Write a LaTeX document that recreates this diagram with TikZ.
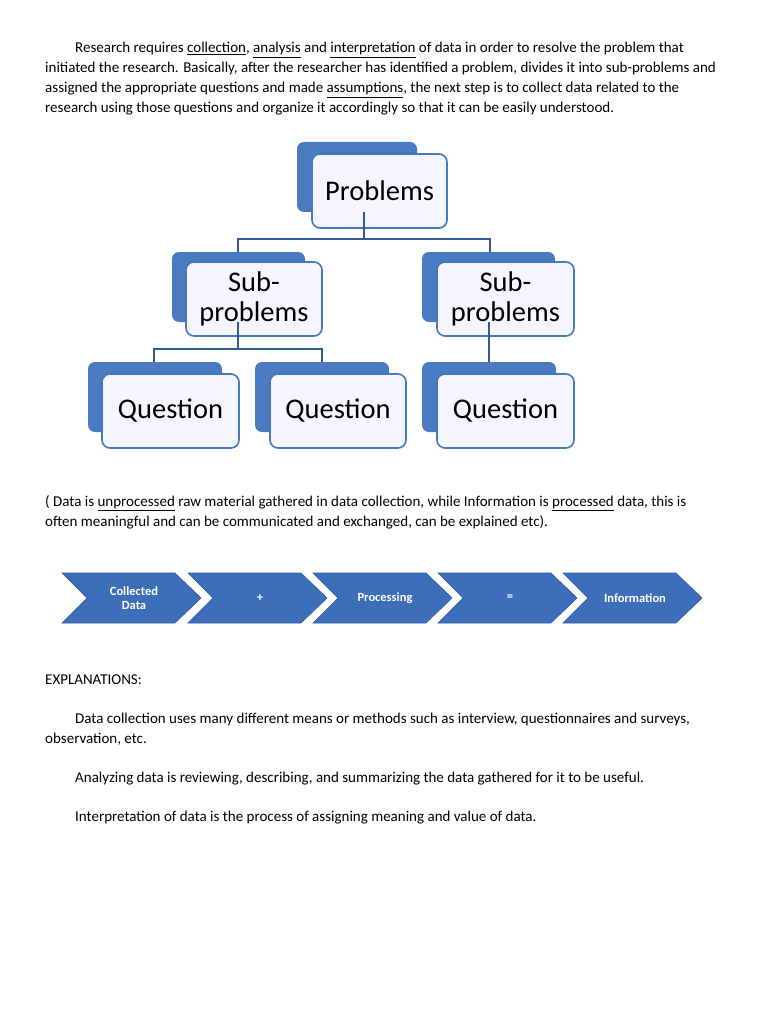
\documentclass[tikz,border=0pt]{standalone}
\usepackage{fontspec}
\setmainfont{Carlito}
\begin{document}
\begin{tikzpicture}[x=1pt,y=-1pt,
 txt/.style={anchor=base west,inner sep=0pt,font=\fontsize{15}{17}\selectfont},
 front/.style={fill=blue!4,draw={rgb,255:red,70;green,120;blue,190},line width=1.6pt,rounded corners=8pt,align=center,font=\fontsize{28.5}{30}\selectfont},
 con/.style={draw={rgb,255:red,50;green,90;blue,150},line width=1.5pt},
 chev/.style={fill={rgb,255:red,60;green,110;blue,185},draw={rgb,255:red,50;green,90;blue,160},line width=0.6pt},
 ctxt/.style={text=white,font=\bfseries\fontsize{12.5}{13.5}\selectfont,align=center}]
\definecolor{bk}{RGB}{74,122,192}
\tikzset{back/.style={fill=bk,rounded corners=7pt}}
\useasboundingbox (0,0) rectangle (768,1024);
\node[txt] at (75,53) {Research requires \underline{collection}, \underline{analysis} and \underline{interpretation} of data in order to resolve the problem that};
\node[txt] at (45,73) {initiated the research. Basically, after the researcher has identified a problem, divides it into sub-problems and};
\node[txt] at (45,93) {assigned the appropriate questions and made \underline{assumptions}, the next step is to collect data related to the};
\node[txt] at (45,113) {research using those questions and organize it accordingly so that it can be easily understood.};
% hierarchy
\fill[back] (297,142) rectangle (417,212);
\node[front,minimum width=135pt,minimum height=74pt] (p) at (379.5,191) {Problems};
\fill[back] (172,252) rectangle (305,322);
\node[front,minimum width=136pt,minimum height=74pt] (s1) at (254,299) {Sub-\\problems};
\fill[back] (422,252) rectangle (555,322);
\node[front,minimum width=137pt,minimum height=74pt] (s2) at (505.5,299) {Sub-\\problems};
\fill[back] (88,362) rectangle (222,432);
\node[front,minimum width=137pt,minimum height=74pt] (q1) at (170.5,411) {Question};
\fill[back] (255,362) rectangle (389,432);
\node[front,minimum width=136pt,minimum height=74pt] (q2) at (338,411) {Question};
\fill[back] (422,362) rectangle (556,432);
\node[front,minimum width=137pt,minimum height=74pt] (q3) at (505.5,411) {Question};
\coordinate (a) at (364,212); \coordinate (b) at (238,322); \coordinate (c) at (489,322);
\draw[con] (a) -- (364,239) (238,252) -- (238,239) -- (490,239) -- (490,252);
\draw[con] (b) -- (238,349) (154,362) -- (154,349) -- (322,349) -- (322,362);
\draw[con] (c) -- (489,362);
\node[txt] at (45,506) {( Data is \underline{unprocessed} raw material gathered in data collection, while Information is \underline{processed} data, this is};
\node[txt] at (45,526) {often meaningful and can be communicated and exchanged, can be explained etc).};
% chevrons
\foreach \x/\t [count=\i] in {62/{Collected\\Data},188/+,313/Processing,438/=,563/Information}{
 \fill[chev] (\x,573) -- (\x+113,573) -- (\x+139,598) -- (\x+113,623) -- (\x,623) -- (\x+25,598) -- cycle;
 \node[ctxt] (c\i) at (\x+72,598) {\t};
}
\node[txt] at (45,684) {EXPLANATIONS:};
\node[txt] at (75,723) {Data collection uses many different means or methods such as interview, questionnaires and surveys,};
\node[txt] at (45,743) {observation, etc.};
\node[txt] at (75,782) {Analyzing data is reviewing, describing, and summarizing the data gathered for it to be useful.};
\node[txt] at (75,821) {Interpretation of data is the process of assigning meaning and value of data.};
\end{tikzpicture}
\end{document}
